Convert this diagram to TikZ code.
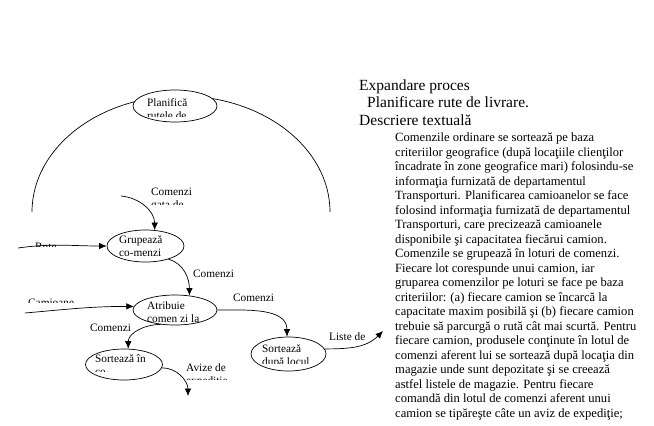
\documentclass[tikz,border=0pt]{standalone}
\usepackage{fontspec}
\setmainfont{Liberation Serif}
\usetikzlibrary{shapes.geometric, arrows.meta}

\tikzset{
  proc/.style={ellipse, draw, fill=white, inner sep=0pt, line width=0.7pt},
  flow/.style={-{Latex[length=7.5pt,width=6.5pt]}, line width=0.7pt},
  lbl/.style={inner sep=0pt, anchor=base west, font=\fontsize{11.3}{13}\selectfont},
  head/.style={inner sep=0pt, anchor=base west, font=\fontsize{15.5}{18}\selectfont},
  para/.style={inner sep=0pt, anchor=base west, font=\fontsize{12.6}{14.5}\selectfont},
}

\begin{document}
\begin{tikzpicture}[x=1pt, y=1pt]
        \path[fill=white] (0,0) rectangle (654,-426);

        \draw[line width=0.7pt] (32,-212) arc[start angle=180, end angle=0, x radius=149, y radius=116];

        \node[proc, minimum width=84pt, minimum height=32pt] (plan) at (175,-106) {};
        \node[proc, minimum width=77pt, minimum height=32pt] (grup) at (145.5,-246) {};
        \node[proc, minimum width=84pt, minimum height=30pt] (atrib) at (175,-310) {};
        \node[proc, minimum width=77pt, minimum height=31pt] (sortex) at (124,-364.5) {};
        \node[proc, minimum width=75pt, minimum height=34pt] (sortloc) at (288.5,-354) {};

        \coordinate (cgin) at (121,-196);
        \coordinate (rutein) at (18,-248);
        \coordinate (camin) at (25,-313);
        \coordinate (avout) at (188,-396);
        \coordinate (listout) at (383,-331);

        \draw[flow] (cgin) to[out=-5, in=90] (grup.60);
        \draw[flow] (rutein) to[out=8, in=180] (grup.west);
        \draw[flow] (grup.-30) to[out=-15, in=90] (atrib.45);
        \draw[flow] (camin) to[out=5, in=180] (atrib.175);
        \draw[flow] (atrib.east) to[out=0, in=90] (sortloc.95);
        \draw[flow] (atrib.-135) to[out=180, in=90] (sortex.75);
        \draw[flow] (sortex.-5) to[out=0, in=90] (avout);
        \draw[flow] (sortloc.8) to[out=0, in=225] (listout);

        \node[lbl] (plan1) at (147,-106) {Planifică};
        \node[lbl] (grup1) at (119,-243) {Grupează};
        \node[lbl] (grup2) at (119,-256) {co-menzi};
        \node[lbl] (atrib1) at (147,-309) {Atribuie};
        \node[lbl] (atrib2) at (147,-322) {comen zi la};
        \node[lbl] (sortex1) at (95,-362) {Sortează în};
        \node[lbl] (sortloc1) at (262,-352) {Sortează};

        \node[lbl] (cgtxt) at (151,-195) {Comenzi};
        \node[lbl] (c1txt) at (193,-277) {Comenzi};
        \node[lbl] (c2txt) at (233,-301) {Comenzi};
        \node[lbl] (c3txt) at (90,-331) {Comenzi};
        \node[lbl] (avtxt) at (186,-371) {Avize de};
        \node[lbl] (lsttxt) at (329,-340) {Liste de};

        \begin{scope}
            \clip (140,-100) rectangle (210,-116);
            \node[lbl] (plan2) at (147,-119) {rutele de};
        \end{scope}
        \begin{scope}
            \clip (90,-366) rectangle (150,-371);
            \node[lbl] (sortex2) at (95,-375) {co-};
        \end{scope}
        \begin{scope}
            \clip (255,-356) rectangle (325,-363);
            \node[lbl] (sortloc2) at (262,-365) {după locul};
        \end{scope}
        \begin{scope}
            \clip (145,-199) rectangle (200,-204);
            \node[lbl] (cgtxt2) at (151,-208) {gata de};
        \end{scope}
        \begin{scope}
            \clip (30,-240) rectangle (65,-246);
            \node[lbl] (rutetxt) at (35,-250) {Rute};
        \end{scope}
        \begin{scope}
            \clip (25,-295) rectangle (80,-302);
            \node[lbl] (camtxt) at (28,-306) {Camioane};
        \end{scope}
        \begin{scope}
            \clip (180,-374) rectangle (235,-379);
            \node[lbl] (avtxt2) at (186,-384) {expediţie};
        \end{scope}

        \node[head] (exp) at (359,-90) {Expandare proces};
        \node[head] (rute) at (367,-107) {Planificare rute de livrare.};
        \node[head] (descr) at (359,-125) {Descriere textuală};
        \foreach \ln [count=\i from 0] in {
            {Comenzile ordinare se sortează pe baza},
            {criteriilor geografice (după locaţiile clienţilor},
            {încadrate în zone geografice mari) folosindu-se},
            {informaţia furnizată de departamentul},
            {Transporturi. Planificarea camioanelor se face},
            {folosind informaţia furnizată de departamentul},
            {Transporturi, care precizează camioanele},
            {disponibile şi capacitatea fiecărui camion.},
            {Comenzile se grupează în loturi de comenzi.},
            {Fiecare lot corespunde unui camion, iar},
            {gruparea comenzilor pe loturi se face pe baza},
            {criteriilor: (a) fiecare camion se încarcă la},
            {capacitate maxim posibilă şi (b) fiecare camion},
            {trebuie să parcurgă o rută cât mai scurtă. Pentru},
            {fiecare camion, produsele conţinute în lotul de},
            {comenzi aferent lui se sortează după locaţia din},
            {magazie unde sunt depozitate şi se creează},
            {astfel listele de magazie. Pentru fiecare},
            {comandă din lotul de comenzi aferent unui},
            {camion se tipăreşte câte un aviz de expediţie;}}
            \node[para] (line\i) at (395,{-141.5-14.5*\i}) {\ln};
    \end{tikzpicture}
\end{document}
